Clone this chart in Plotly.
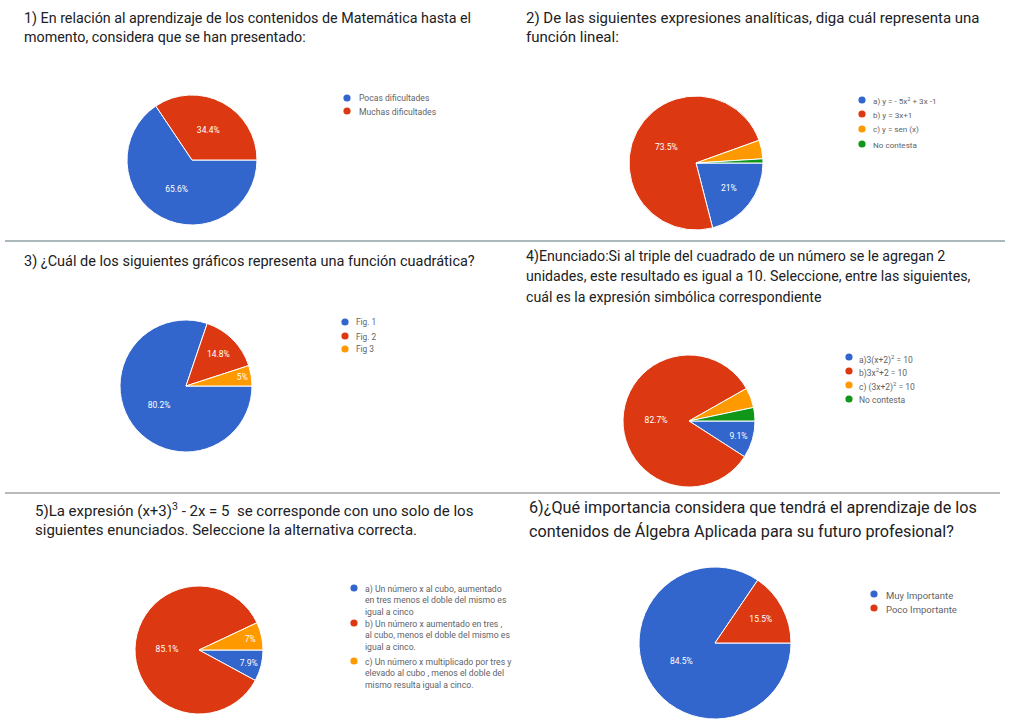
import plotly.graph_objects as go

W, H = 1010, 727

# ---------------- data ----------------
c1_labels = ["Pocas dificultades", "Muchas dificultades"]
c1_values = [65.6, 34.4]

c2_labels = ["a) y = - 5x<sup>2</sup> + 3x -1", "b) y = 3x+1", "c) y = sen (x)", "No contesta"]
c2_values = [21.0, 73.5, 4.5, 1.0]

c3_labels = ["Fig. 1", "Fig. 2", "Fig 3"]
c3_values = [80.2, 14.8, 5.0]

c4_labels = ["a)3(x+2)<sup>2</sup> = 10", "b)3x<sup>2</sup>+2 = 10", "c) (3x+2)<sup>2</sup> = 10", "No contesta"]
c4_values = [9.1, 82.7, 4.9, 3.3]

c5_labels = [
    "a) Un número x al cubo, aumentado<br>en tres menos el doble del mismo es<br>igual a cinco",
    "b) Un número x aumentado en tres ,<br>al cubo, menos el doble del mismo es<br>igual a cinco.",
    "c) Un número x multiplicado por tres y<br>elevado al cubo , menos el doble del<br>mismo resulta igual a cinco.",
]
c5_values = [7.9, 85.1, 7.0]

c6_labels = ["Muy Importante", "Poco Importante"]
c6_values = [84.5, 15.5]

titles = [
    ["1) En relación al aprendizaje de los contenidos de Matemática hasta el",
     "momento, considera que se han presentado:"],
    ["2) De las siguientes expresiones analíticas, diga cuál representa una",
     "función lineal:"],
    ["3) ¿Cuál de los siguientes gráficos representa una función cuadrática?"],
    ["4)Enunciado:Si al triple del cuadrado de un número se le agregan 2",
     "unidades, este resultado es igual a 10. Seleccione, entre las siguientes,",
     "cuál es la expresión simbólica correspondiente"],
    ["5)La expresión (x+3)<sup>3</sup> - 2x = 5  se corresponde con uno solo de los",
     "siguientes enunciados. Seleccione la alternativa correcta."],
    ["6)¿Qué importancia considera que tendrá el aprendizaje de los",
     "contenidos de Álgebra Aplicada para su futuro profesional?"],
]

COLORS = ["#3366cc", "#dc3912", "#ff9900", "#109618"]

# ---------------- layout geometry (pixels) ----------------
charts = [
    dict(labels=c1_labels, values=c1_values, c=(192, 160), r=65,
         leg=(347, 357, [98, 111]), lfs=8.6,
         title=(22, [18, 37]), tfs=14.3),
    dict(labels=c2_labels, values=c2_values, c=(696, 163), r=67,
         leg=(862, 871, [100, 114, 129, 144]), lfs=8.1,
         title=(524, [18, 37]), tfs=15.0),
    dict(labels=c3_labels, values=c3_values, c=(186, 386), r=66,
         leg=(345, 354, [322, 336, 349]), lfs=8.3,
         title=(22, [261]), tfs=14.5),
    dict(labels=c4_labels, values=c4_values, c=(689, 421), r=66,
         leg=(849, 857, [357, 371, 385, 399]), lfs=8.5,
         title=(524, [256, 276, 297]), tfs=14.2),
    dict(labels=c5_labels, values=c5_values, c=(199, 650), r=64,
         leg=(354, 363, [588, 623, 661]), lfs=8.7,
         title=(33, [510, 530]), tfs=15.0),
    dict(labels=c6_labels, values=c6_values, c=(715, 643), r=76,
         leg=(874, 884, [594, 608]), lfs=9.5,
         title=(527, [508, 531]), tfs=16.2),
]

fig = go.Figure()
shapes = []
annotations = []

for i, ch in enumerate(charts):
    cx, cy = ch["c"]
    r = ch["r"]
    vals = ch["values"]
    txt = [f"{v:g}%" for v in vals]
    tpos = ["inside" if v >= 5 else "none" for v in vals]
    fig.add_trace(go.Pie(
        labels=ch["labels"], values=vals, text=txt, textinfo="text",
        textposition=tpos, insidetextorientation="horizontal",
        textfont=dict(color="white", size=8.5, family="Roboto"),
        marker=dict(colors=COLORS[:len(vals)], line=dict(color="white", width=1)),
        sort=False, direction="clockwise", rotation=90,
        showlegend=False, hoverinfo="label+percent",
        domain=dict(x=[(cx - r) / W, (cx + r) / W],
                    y=[1 - (cy + r) / H, 1 - (cy - r) / H]),
    ))
    # legend (dots + labels)
    dx, tx, ys = ch["leg"]
    for j, (lab, y) in enumerate(zip(ch["labels"], ys)):
        d = 3.6
        shapes.append(dict(type="circle", xref="paper", yref="paper",
                           x0=(dx - d) / W, x1=(dx + d) / W,
                           y0=1 - (y + d) / H, y1=1 - (y - d) / H,
                           fillcolor=COLORS[j], line=dict(width=0)))
        annotations.append(dict(
            text=lab, xref="paper", yref="paper",
            x=tx / W, y=1 - (y - 6.5) / H, xanchor="left", yanchor="top",
            align="left", showarrow=False,
            font=dict(size=ch["lfs"], color="#5f6368", family="Roboto")))
    # title lines
    x0, tys = ch["title"]
    for line, ty in zip(titles[i], tys):
        annotations.append(dict(
            text=line, xref="paper", yref="paper",
            x=x0 / W, y=1 - ty / H, xanchor="left", yanchor="middle",
            align="left", showarrow=False,
            font=dict(size=ch["tfs"], color="#202124", family="Roboto")))

# separators
shapes.append(dict(type="line", xref="paper", yref="paper",
                   x0=5 / W, x1=1005 / W, y0=1 - 241 / H, y1=1 - 241 / H,
                   line=dict(color="#aab8bc", width=2)))
shapes.append(dict(type="line", xref="paper", yref="paper",
                   x0=5 / W, x1=1000 / W, y0=1 - 493 / H, y1=1 - 493 / H,
                   line=dict(color="#a3a3a3", width=1.5)))

fig.update_layout(
    width=W, height=H,
    margin=dict(l=0, r=0, t=0, b=0),
    paper_bgcolor="white", plot_bgcolor="white",
    shapes=shapes, annotations=annotations,
    font=dict(family="Roboto"),
)

fig.write_html("out.html", config={"displayModeBar": False},
               post_script="document.body.style.margin='0px';")
